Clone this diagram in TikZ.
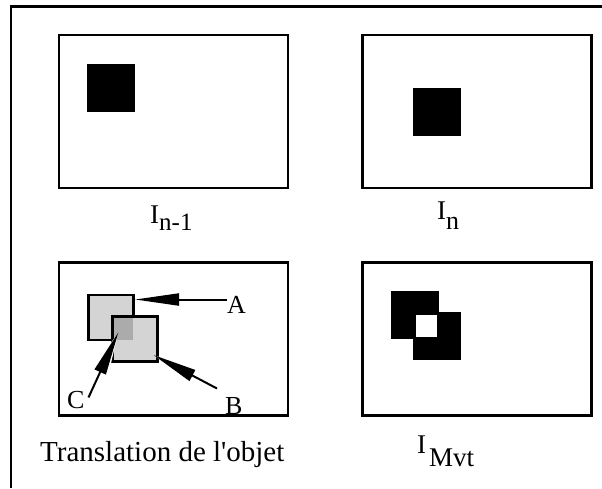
\documentclass[tikz,border=0pt]{standalone}
\usepackage{fontspec}
\setmainfont{Liberation Serif}[Ligatures=TeXOff]
\usetikzlibrary{arrows.meta}
\begin{document}
\begin{tikzpicture}[x=1pt,y=-1pt,
  frame/.style={line width=2.2pt},
  imgbox/.style={draw, line width=2.6pt, inner sep=0pt, minimum width=229pt, minimum height=153pt},
  blk/.style={fill=black},
  hatch/.style={fill=black!17},
  hatchdark/.style={fill=black!33},
  sqline/.style={draw=black, line width=2.4pt},
  lbl/.style={inner sep=0pt, anchor=base west, font=\fontsize{27}{27}\selectfont},
  letter/.style={inner sep=0pt, anchor=base west, font=\fontsize{26}{26}\selectfont},
  ptr/.style={line width=2pt, -{Triangle[length=44pt,width=12pt]}},
  halo/.style={draw=white, line width=4.5pt, -{Triangle[length=46pt,width=17pt]}},
]
\useasboundingbox (0,0) rectangle (602,488);
% outer frame (only top and left visible)
\draw[frame] (11,488) -- (11,6.5) -- (602,6.5);

% image boxes
\node[imgbox] (b1) at (173.5,111.5) {};
\node[imgbox] (b2) at (477,111.5) {};
\node[imgbox] (b3) at (173.5,339) {};
\node[imgbox] (b4) at (477,339) {};

% objects
\fill[blk] (87,64) rectangle (135,112);
\fill[blk] (413,88) rectangle (461,136);
\fill[blk] (391,291) rectangle (439,339);
\fill[blk] (413,312) rectangle (461,360);
\fill[white] (415.5,315) rectangle (437,336.5);

% translation of the object
\path[hatch] (88.5,295) rectangle (133.5,340);
\draw[sqline] (88.5,295) rectangle (133.5,340);
\path[hatch] (112.5,316.5) rectangle (157.5,361.5);
\draw[sqline] (112.5,316.5) rectangle (157.5,361.5);
\path[hatchdark] (113.9,317.9) rectangle (132.8,339.6);

% arrows
\coordinate (a0) at (227,299.5);
\coordinate (tipA) at (135,299.5);
\coordinate (b0) at (217,388.5);
\coordinate (tipB) at (153.5,355);
\coordinate (c0) at (88.5,397.5);
\coordinate (tipC) at (118.5,332);

\draw[halo] (c0) -- (tipC);
\draw[halo] (b0) -- (tipB);
\draw[ptr] (a0) -- (tipA);
\draw[ptr] (b0) -- (tipB);
\draw[ptr] (c0) -- (tipC);

% letters
\node[letter] (la) at (227,313) {A};
\node[letter] (lb) at (225,414) {B};
\node[letter] (lc) at (67,408) {C};

% captions
\node[lbl] (in1) at (150,223) {I\raisebox{-7pt}{\fontsize{25}{25}\selectfont n-1}};
\node[lbl] (in) at (437,219) {I\raisebox{-10pt}{\fontsize{26}{26}\selectfont n}};
\node[lbl] (imvt) at (417,453) {I\hspace{3pt}\raisebox{-13pt}{\fontsize{27}{27}\selectfont Mvt}};
\node[lbl, font=\fontsize{29}{29}\selectfont] (trans) at (40,461) {Translation de l'objet};
\end{tikzpicture}
\end{document}
